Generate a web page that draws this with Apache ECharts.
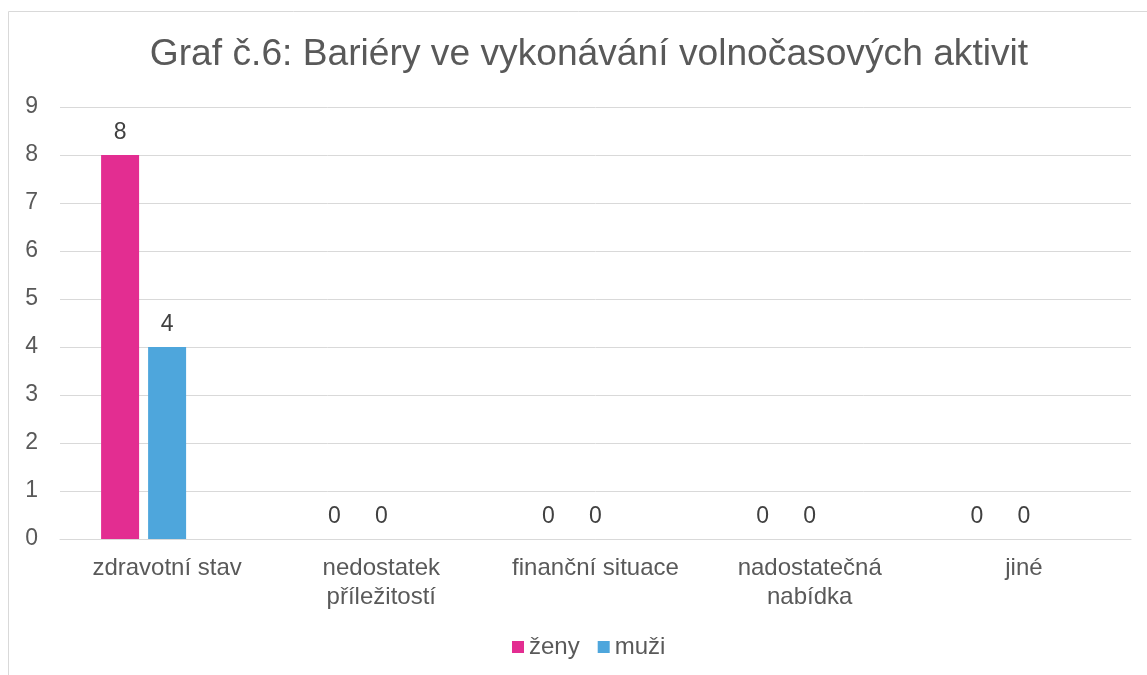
<!DOCTYPE html>
<html><head><meta charset="utf-8">
<script src="https://cdn.jsdelivr.net/npm/echarts@6/dist/echarts.min.js"></script>
<style>html,body{margin:0;padding:0;background:#fff}#c{width:1147px;height:675px}</style>
</head><body><div id="c"></div>
<script>
const title = 'Graf č.6: Bariéry ve vykonávání volnočasových aktivit';
const categories = ['zdravotní stav', 'nedostatek\npříležitostí', 'finanční situace', 'nadostatečná\nnabídka', 'jiné'];
const zeny = [8, 0, 0, 0, 0];
const muzi = [4, 0, 0, 0, 0];
const hidden = ['-', '-', '-', '-', '-'];
const yTicks = [0, 9, 1];

const font = 'Liberation Sans, Arial, sans-serif';
const chart = echarts.init(document.getElementById('c'));
const labelCfg = {show: true, position: 'top', distance: 11, color: '#404040', fontSize: 23, fontFamily: font};
chart.setOption({
  animation: false,
  graphic: [{type: 'rect', shape: {x: 8.5, y: 11.5, width: 1200, height: 700}, style: {fill: 'none', stroke: '#d9d9d9', lineWidth: 1}, silent: true}],
  title: {text: title, left: 584, top: 31, textAlign: 'center',
    textStyle: {fontFamily: font, fontSize: 37.2, fontWeight: 'normal', color: '#595959'}},
  legend: {data: ['ženy', 'muži'], bottom: 11, left: 507, itemWidth: 12, itemHeight: 12, itemGap: 18,
    icon: 'rect', textStyle: {fontFamily: font, fontSize: 24, color: '#595959'}},
  grid: {left: 60, right: 16, top: 107, bottom: 136, containLabel: false},
  xAxis: {type: 'category', data: categories,
    axisLine: {show: true, lineStyle: {color: '#d9d9d9'}}, axisTick: {show: false},
    axisLabel: {fontFamily: font, fontSize: 24, color: '#595959', margin: 15, lineHeight: 29, interval: 0}},
  yAxis: {type: 'value', min: yTicks[0], max: yTicks[1], interval: yTicks[2],
    axisLine: {show: false}, axisTick: {show: false},
    splitLine: {lineStyle: {color: '#d9d9d9', width: 1}},
    axisLabel: {fontFamily: font, fontSize: 23, color: '#595959', margin: 22}},
  series: [
    {name: 'ženy', type: 'bar', data: zeny, itemStyle: {color: '#E32D91'}, barWidth: 38, barGap: '23.7%', label: labelCfg},
    {name: 'muži', type: 'bar', data: muzi, itemStyle: {color: '#4EA6DC'}, barWidth: 38, barGap: '23.7%', label: labelCfg},
    {name: '', type: 'bar', data: hidden, barWidth: 38, barGap: '23.7%'}
  ]
});
</script></body></html>
